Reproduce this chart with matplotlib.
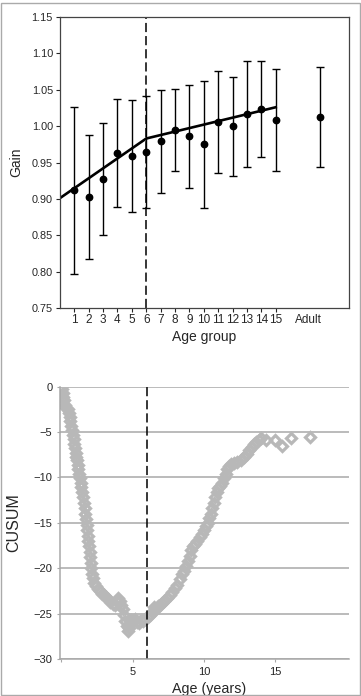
import matplotlib
matplotlib.use("Agg")
import matplotlib.pyplot as plt
from matplotlib.patches import Rectangle

plt.rcParams['font.family'] = ['Liberation Sans', 'DejaVu Sans']

# top panel: gain per age group (mean +/- error), plus adult
groups = list(range(1, 16))
gain = [0.912, 0.903, 0.927, 0.963, 0.959, 0.964, 0.979, 0.995, 0.986, 0.975,
        1.006, 1.000, 1.017, 1.023, 1.009]
gain_err = [0.115, 0.085, 0.077, 0.074, 0.077, 0.077, 0.071, 0.056, 0.071, 0.087,
            0.070, 0.068, 0.073, 0.066, 0.070]
adult_x = 18.1
adult_gain = 1.013
adult_err = 0.069
fit_x = [0, 6, 15]
fit_y = [0.901, 0.983, 1.026]
xtick_pos = groups + [17.3]
xtick_lab = [str(g) for g in groups] + ["Adult"]
breakpoint_age = 6

# bottom panel: CUSUM against age
age = [0.00, 0.05, 0.10, 0.15, 0.22, 0.28, 0.35, 0.45, 0.52, 0.58, 0.64, 0.70,
       0.76, 0.82, 0.87, 0.92, 0.96, 1.00, 1.05, 1.10, 1.15, 1.20, 1.25, 1.30,
       1.35, 1.40, 1.46, 1.52, 1.58, 1.63, 1.68, 1.73, 1.78, 1.82, 1.86, 1.90,
       1.94, 1.98, 2.02, 2.06, 2.10, 2.15, 2.22, 2.30, 2.40, 2.55, 2.70, 2.85,
       3.00, 3.15, 3.30, 3.45, 3.60, 3.75, 3.90, 4.00, 4.10, 4.20, 4.30, 4.40,
       4.50, 4.58, 4.65, 4.72, 4.80, 4.90, 5.00, 5.15, 5.30, 5.45, 5.60, 5.75,
       5.90, 6.05, 6.20, 6.35, 6.50, 6.60, 6.75, 6.90, 7.05, 7.20, 7.40, 7.60,
       7.80, 8.00, 8.15, 8.30, 8.45, 8.60, 8.75, 8.90, 9.00, 9.10, 9.25, 9.40,
       9.55, 9.70, 9.85, 10.00, 10.15, 10.30, 10.40, 10.50, 10.60, 10.70, 10.80,
       10.90, 11.00, 11.15, 11.30, 11.45, 11.55, 11.65, 11.75, 11.90, 12.10,
       12.30, 12.60, 12.85, 13.05, 13.20, 13.35, 13.50, 13.65, 13.85, 14.05,
       14.40, 15.00, 15.50, 16.15, 17.45]
cusum = [0.0, -0.3, -0.7, -1.1, -1.5, -2.0, -2.3, -2.5, -2.9, -3.3, -3.8, -4.3,
         -4.8, -5.3, -5.8, -6.3, -6.8, -7.3, -7.7, -8.1, -8.6, -9.1, -9.6, -10.1,
         -10.6, -11.1, -11.6, -12.2, -12.8, -13.4, -14.0, -14.6, -15.2, -15.8,
         -16.4, -17.0, -17.6, -18.2, -18.8, -19.4, -20.0, -20.6, -21.1, -21.6,
         -22.0, -22.3, -22.5, -22.8, -22.9, -23.2, -23.4, -23.7, -23.9, -24.0,
         -23.6, -23.3, -23.6, -24.0, -24.5, -25.2, -25.8, -26.4, -26.9, -26.6,
         -26.0, -25.7, -25.8, -25.6, -25.9, -26.0, -25.7, -25.8, -25.6, -25.4,
         -25.2, -24.8, -24.3, -24.6, -24.2, -24.0, -23.8, -23.6, -23.3, -23.0,
         -22.6, -22.2, -21.8, -21.2, -20.6, -20.3, -19.8, -19.2, -18.6, -18.0,
         -17.5, -17.3, -17.0, -16.6, -16.2, -15.8, -15.4, -15.0, -14.5, -14.0,
         -13.4, -12.8, -12.2, -11.6, -11.2, -10.9, -10.6, -10.1, -9.6, -9.1,
         -8.7, -8.5, -8.4, -8.3, -8.1, -7.8, -7.4, -7.0, -6.6, -6.3, -6.1, -5.9,
         -5.7, -5.9, -5.9, -6.5, -5.7, -5.5]

txt = '#262626'
fig = plt.figure(figsize=(3.61, 6.96), dpi=100)
fig.patches.append(Rectangle((0.002, 0.002), 0.994, 0.994, transform=fig.transFigure,
                             fill=False, edgecolor='#aaaaaa', linewidth=1))

# ---- top panel
ax1 = fig.add_axes([0.166, 0.5575, 0.801, 0.418])
ax1.errorbar(groups, gain, yerr=gain_err, fmt='o', color='black', ms=4.6,
             capsize=2.6, elinewidth=1, capthick=1)
ax1.errorbar([adult_x], [adult_gain], yerr=[adult_err], fmt='o', color='black', ms=4.6,
             capsize=2.6, elinewidth=1, capthick=1)
ax1.plot(fit_x, fit_y, color='black', lw=1.9)
ax1.axvline(breakpoint_age, color='black', lw=1.1, dashes=(6, 2.6))
ax1.set_xlim(0, 20.1)
ax1.set_ylim(0.75, 1.15)
ax1.set_yticks([0.75, 0.80, 0.85, 0.90, 0.95, 1.00, 1.05, 1.10, 1.15])
ax1.set_yticklabels(['%.2f' % v for v in ax1.get_yticks()])
ax1.set_xticks(xtick_pos)
ax1.set_xticklabels(xtick_lab)
ax1.xaxis.get_major_ticks()[-1].tick1line.set_visible(False)
ax1.tick_params(labelsize=7.8, colors=txt, length=3, width=0.8, pad=2)
ax1.tick_params(axis='x', labelsize=8.5, pad=1.5)
for s in ax1.spines.values():
    s.set_color('#444444')
    s.set_linewidth(0.9)
ax1.set_xlabel('Age group', fontsize=10, color=txt)
ax1.set_ylabel('Gain', fontsize=10, color=txt)
ax1.xaxis.set_label_coords(0.5, -0.076)
ax1.yaxis.set_label_coords(-0.128, 0.5)

# ---- bottom panel
ax2 = fig.add_axes([0.166, 0.0532, 0.801, 0.3912])
ax2.plot(age, cusum, linestyle='none', marker='D', ms=4.6, mfc='none',
         mec='#b8b8b8', mew=2.3)
ax2.axvline(breakpoint_age, color='black', lw=1.1, dashes=(6, 2.6))
ax2.set_xlim(-0.1, 20.2)
ax2.set_ylim(-30, 0)
ax2.set_yticks(range(-30, 1, 5))
ax2.set_xticks([0, 5, 10, 15])
ax2.set_xticklabels(['', '5', '10', '15'])
ax2.grid(axis='y', color='#a8a8a8', lw=1.1)
ax2.set_axisbelow(True)
for k in ['top', 'right']:
    ax2.spines[k].set_visible(False)
for k in ['left', 'bottom']:
    ax2.spines[k].set_color('#a8a8a8')
    ax2.spines[k].set_linewidth(1.1)
ax2.tick_params(labelsize=8, colors=txt, length=2.5, width=0.8, pad=3)
ax2.tick_params(color='#a8a8a8')
ax2.set_xlabel('Age (years)', fontsize=10.3, color=txt)
ax2.set_ylabel('CUSUM', fontsize=11.5, color=txt)
ax2.xaxis.set_label_coords(0.516, -0.086)
ax2.yaxis.set_label_coords(-0.133, 0.5)

fig.savefig('out.png', dpi=100)
